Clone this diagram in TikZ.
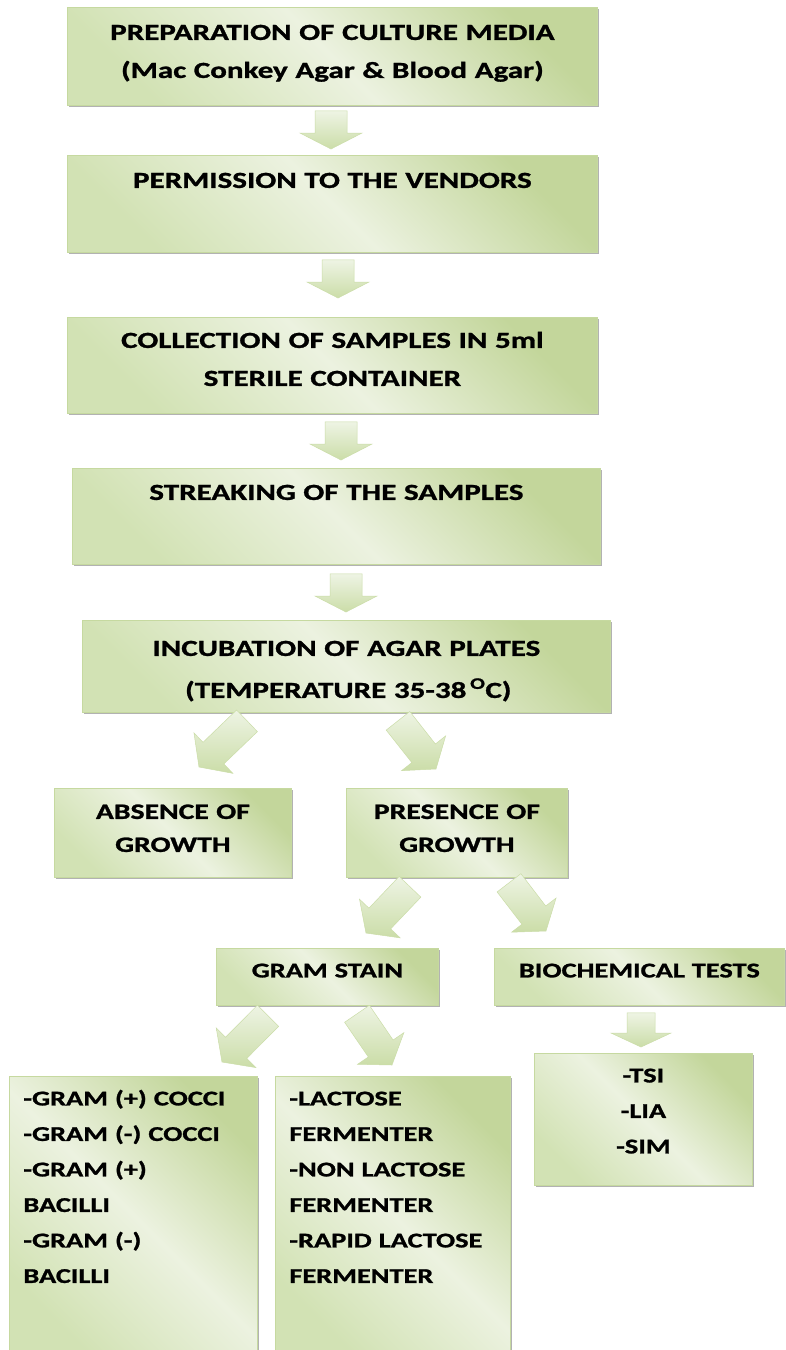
\documentclass[tikz,border=0pt]{standalone}
\usepackage{fontspec}
\usepackage{tikz}
\usetikzlibrary{calc,shadows}
\newfontfamily\boxfont{Carlito}[FakeStretch=1.35, BoldFeatures={FakeBold=1.2}]

\definecolor{boxdark}{RGB}{195,214,155}
\definecolor{boxmid}{RGB}{210,226,180}
\definecolor{boxlight}{RGB}{236,242,224}
\definecolor{boxedge}{RGB}{198,217,160}
\definecolor{arrowlight}{RGB}{238,244,228}
\definecolor{arrowdark}{RGB}{203,221,168}

\def\flowarrow[#1/#2/#3]#4#5{%
	\coordinate (fa-s) at (#4);
	\coordinate (fa-e) at (#5);
	\shade[blockarrow] ($(fa-s)!#1!90:(fa-e)$) -- ($(fa-e)!#3!(fa-s)!#1!-90:(fa-s)$) -- ($(fa-e)!#3!(fa-s)!#2!-90:(fa-s)$) -- (fa-e) -- ($(fa-e)!#3!(fa-s)!#2!90:(fa-s)$) -- ($(fa-e)!#3!(fa-s)!#1!90:(fa-s)$) -- ($(fa-s)!#1!-90:(fa-e)$) -- cycle;}

\begin{document}
\begin{tikzpicture}[x=1pt, y=-1pt,
		stepbox/.style={rectangle, draw=boxedge, line width=0.8pt, anchor=north west, inner sep=0pt, align=center, top color=boxdark, bottom color=boxmid, middle color=boxlight, shading angle=-45, drop shadow={shadow xshift=1.5pt, shadow yshift=-1.5pt, opacity=0.3, fill=black}},
		listbox/.style={stepbox, align=left, inner xsep=14pt},
		bigtext/.style={font=\boxfont\bfseries\fontsize{23}{38}\selectfont},
		midtext/.style={font=\boxfont\bfseries\fontsize{22}{33}\selectfont},
		smalltext/.style={font=\boxfont\bfseries\fontsize{21}{35.5}\selectfont},
		blockarrow/.style={draw=arrowdark, line width=0.5pt, top color=arrowlight, bottom color=arrowdark}]
				\fill[white] (0,0) rectangle (786,1350);
				\useasboundingbox (0,0) rectangle (786,1350);
				
				\node[stepbox, bigtext, text width=530pt, text height=32.5pt, text depth=65.5pt] (prep) at (67,7) {PREPARATION OF CULTURE MEDIA\\(Mac Conkey Agar \& Blood Agar)};
				\node[stepbox, bigtext, text width=530pt, text height=32.5pt, text depth=64.5pt] (perm) at (67,155) {PERMISSION TO THE VENDORS};
				\node[stepbox, bigtext, text width=530pt, text height=30.5pt, text depth=65.5pt] (coll) at (67,317) {COLLECTION OF SAMPLES IN 5ml\\STERILE CONTAINER};
				\node[stepbox, bigtext, text width=528pt, text height=31.5pt, text depth=64.5pt] (streak) at (72,468) {STREAKING OF THE SAMPLES};
				\node[stepbox, bigtext, text width=528pt, text height=35.5pt, text depth=56.5pt] (incub) at (82,620) {INCUBATION OF AGAR PLATES\\[4pt]\,(TEMPERATURE 35-38\,\textsuperscript{O}C)};
				
				\node[stepbox, midtext, text width=237pt, text height=30.5pt, text depth=58.5pt] (absent) at (54,788) {ABSENCE OF\\GROWTH};
				\node[stepbox, midtext, text width=221pt, text height=30.5pt, text depth=58.5pt] (present) at (346,788) {PRESENCE OF\\GROWTH};
				
				\node[stepbox, smalltext, text width=222pt, text height=29pt, text depth=28pt] (gram) at (216,948) {GRAM STAIN};
				\node[stepbox, smalltext, text width=290pt, text height=29pt, text depth=28pt] (biochem) at (494,948) {BIOCHEMICAL TESTS};
				
				\node[listbox, smalltext, text width=220pt, text height=29pt, text depth=247pt] (gramlist) at (9,1076) {-GRAM (+) COCCI\\-GRAM (-) COCCI\\-GRAM (+)\\BACILLI\\-GRAM (-)\\BACILLI};
				\node[listbox, smalltext, text width=207pt, text height=29pt, text depth=247pt] (lactlist) at (275,1076) {-LACTOSE\\FERMENTER\\-NON LACTOSE\\FERMENTER\\-RAPID LACTOSE\\FERMENTER};
				\node[stepbox, smalltext, text width=218pt, text height=29pt, text depth=103pt] (testlist) at (534,1053) {-TSI\\-LIA\\-SIM};
				
				\flowarrow[16pt/31pt/16pt]{$(prep.south west)+(264,5)$}{$(perm.north west)+(264,-6)$}
				\flowarrow[16pt/31pt/16pt]{$(perm.south west)+(271,7)$}{$(coll.north west)+(271,-19)$}
				\flowarrow[16pt/31pt/16pt]{$(coll.south west)+(274,8)$}{$(streak.north west)+(269,-8)$}
				\flowarrow[16pt/31pt/16pt]{$(streak.south west)+(274,9)$}{$(incub.north west)+(264,-8)$}
				
				\flowarrow[15pt/28pt/20pt]{$(incub.south west)+(165,8)$}{$(absent.north west)+(145,-21)$}
				\flowarrow[15pt/28pt/20pt]{$(incub.south west)+(316,8)$}{$(present.north west)+(90,-19)$}
				\flowarrow[15pt/28pt/20pt]{$(present.south west)+(64,9)$}{$(gram.north west)+(150,-15)$}
				\flowarrow[15pt/28pt/20pt]{$(present.south west)+(163,5)$}{$(biochem.north west)+(52,-17)$}
				\flowarrow[15pt/28pt/20pt]{$(gram.south west)+(52,10)$}{$(gramlist.north west)+(213,-14)$}
				\flowarrow[15pt/28pt/20pt]{$(gram.south west)+(141,8)$}{$(lactlist.north west)+(117,-11)$}
				\flowarrow[14pt/30pt/14pt]{$(biochem.south west)+(147,7)$}{$(testlist.north west)+(107,-6)$}
\end{tikzpicture}
\end{document}
